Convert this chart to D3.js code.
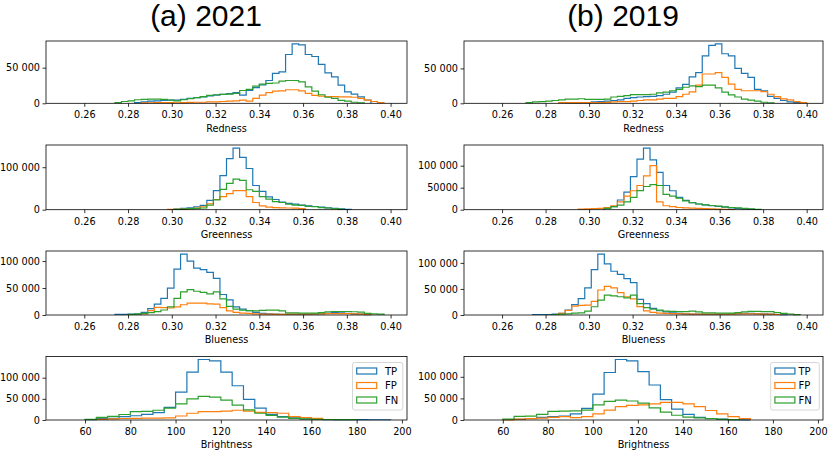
<!DOCTYPE html>
<html>
<head>
<meta charset="utf-8">
<script src="https://cdn.jsdelivr.net/npm/d3@7"></script>
<style>
	body { margin: 0; background: #fff; }
	svg { display: block; }
</style>
</head>
<body>
<div id="chart"></div>
<script>
// ---------------------------------------------------------------------------
// Data: histogram counts per bin
// Colour channels: 50 bins of 0.003 from 0.25 ; brightness: 29 bins of 5 from 50
// ---------------------------------------------------------------------------
var seriesNames = ["TP", "FP", "FN"];

var redness2021TP = [0,0,0,0,0,0,0,0,0,0, 0,1000,2000,3000,3500,4000,4500,4500,5500,7000,
	8000,9000,10500,11500,12500,13500,15000,11500,18000,22000, 26000,32000,42000,44000,68500,83300,82000,68500,65700,54600,
	42600,37000,25500,16000,13000,9000,4600,0,0,0];
var redness2021FP = [0,0,0,0,0,0,0,0,0,0, 0,0,500,800,1000,1000,1000,800,1000,1200,
	1500,1500,2000,2000,2500,3000,3500,4500,3000,7000, 11500,15000,17000,17500,19000,19000,17500,14000,11000,10000,
	9500,9500,9000,9000,8500,7000,4500,2500,1000,0];
var redness2021FN = [0,0,0,0,0,0,0,0,1000,2500, 3500,5000,5500,6000,6000,5500,4500,3500,5000,6500,
	8000,9500,11000,12000,12500,13000,14000,18000,19500,24000, 27000,28000,28500,31000,32000,32000,30000,23000,17000,12000,
	8500,7000,4000,3000,1500,800,0,0,0,0];

var redness2019TP = [0,0,0,0,0,0,0,0,0,0, 0,0,0,1000,1000,1000,1000,2000,2500,3000,
	4000,5000,7000,8000,9000,9500,10000,11000,13000,16000, 22000,27000,38000,44000,68000,83000,85000,71000,68000,50000,
	43000,37000,20000,18000,10000,7000,4000,2000,1000,0];
var redness2019FP = [0,0,0,0,0,0,0,0,0,0, 0,0,1000,1000,1000,1000,1000,1000,1000,1200,
	2000,2400,2400,3000,4000,4800,5000,6000,7000,7000, 9500,13000,16500,26000,42000,42000,44000,37000,27600,20000,
	18000,18000,18000,16600,13000,9500,6200,4800,2400,1000];
var redness2019FN = [0,0,0,0,0,0,0,1000,2000,2500, 3000,4000,5000,6000,6000,6500,5500,5500,5500,6000,
	9000,10000,11000,12500,12500,12500,13000,15000,16000,18000, 20000,23000,25000,24000,26000,26000,22000,16000,12000,9000,
	6000,4500,3000,1500,800,0,0,0,0,0];

var greenness2021TP = [0,0,0,0,0,0,0,0,0,0, 0,0,0,0,0,0,0,1500,3000,4500,
	7000,10000,22000,45000,80000,120000,145000,123000,97000,57000, 43000,30000,24000,18000,15000,13000,11000,9000,7500,6000,
	4500,3000,2000,1000,0,0,0,0,0,0];
var greenness2021FP = [0,0,0,0,0,0,0,0,0,0, 0,0,0,0,0,0,1000,1000,1500,2500,
	3500,7000,14000,24000,31000,38000,45000,45000,31000,17000, 9000,6000,5000,4500,4000,3500,2500,0,0,0,
	0,0,0,0,0,0,0,0,0,0];
var greenness2021FN = [0,0,0,0,0,0,0,0,0,0, 0,0,0,0,0,0,0,1000,1500,2500,
	3000,4000,11000,23000,48000,62000,72000,69000,47000,43000, 31000,25000,19000,17000,13000,11000,10000,8000,7000,5000,
	4000,2500,1000,0,0,0,0,0,0,0];

var greenness2019TP = [0,0,0,0,0,0,0,0,0,0, 0,0,0,0,0,0,0,0,0,4000,
	7000,22000,40000,75000,115000,140000,113000,85000,55000,43000, 28000,21000,16000,13000,11000,9000,7500,6000,4000,3000,
	2000,1000,500,0,0,0,0,0,0,0];
var greenness2019FP = [0,0,0,0,0,0,0,0,0,0, 0,0,0,0,0,1500,2000,2500,3000,5000,
	9000,18000,31000,43000,55000,77000,100000,18000,9000,7000, 5000,4000,3500,3000,2500,2000,1500,1000,500,0,
	0,0,0,0,0,0,0,0,0,0];
var greenness2019FN = [0,0,0,0,0,0,0,0,0,0, 0,0,0,0,0,0,0,0,0,3000,
	7000,10500,18000,28000,43500,52700,57000,55000,35000,31000, 26000,20000,16000,13000,11000,9500,8000,6500,5000,4000,
	3000,2000,1000,0,0,0,0,0,0,0];

var blueness2021TP = [0,0,0,0,0,0,0,0,1000,1000, 1500,2000,5000,12000,20000,31000,50000,85000,113000,100000,
	87000,84000,79000,68000,38000,28000,15000,11000,8000,5000, 3000,2000,1500,1200,1000,1000,1000,1500,2000,2500,
	3500,4500,4000,3000,2000,1500,800,0,0,0];
var blueness2021FP = [0,0,0,0,0,0,0,0,0,0, 0,0,2000,8000,14000,13500,13000,15000,19000,22000,
	22000,22000,20500,20000,13500,7500,5000,3500,3000,2000, 1500,1500,1200,1200,1500,1500,1500,1500,2000,2000,
	2500,2500,2500,2500,2000,1500,1000,0,0,0];
var blueness2021FN = [0,0,0,0,0,0,0,0,0,0, 1000,1500,3000,4300,6200,9300,15000,31000,43000,47000,
	44000,42000,39000,43000,30000,16000,11000,9000,8000,7500, 8500,9000,9000,7500,4000,4000,3500,3500,3500,4500,
	6000,6500,6500,6500,6000,5500,3000,2000,1500,0];

var blueness2019TP = [0,0,0,0,0,0,0,0,1000,1000, 1000,1500,3000,9500,20000,31600,52000,87000,117000,98000,
	84000,78000,70000,62000,30000,22000,12700,8200,6000,4000, 3000,2000,1500,1500,1200,1200,1200,1500,2000,2500,
	3000,3000,2500,2000,1500,1000,500,0,0,0];
var blueness2019FP = [0,0,0,0,0,0,0,0,0,0, 0,0,3000,9000,17000,18500,19000,26000,48000,55000,
	52000,43000,35000,31000,16000,8000,5000,3500,3000,2500, 2000,2000,1500,1500,1500,1500,1500,1500,1500,2000,
	2000,2000,2000,1500,1500,1000,0,0,0,0];
var blueness2019FN = [0,0,0,0,0,0,0,0,0,0, 0,1000,1500,2000,3500,4000,7600,15800,28500,38000,
	36700,35000,33000,38000,22000,14000,11000,9500,7500,7000, 6500,6500,7500,6000,4000,4000,3500,3500,3500,4500,
	6000,7000,7000,6500,6500,4500,3000,1500,800,0];

var brightness2021TP = [0,0,1000,4000,4000,8000,10000,13500,17500,30000,
	66000,113000,143000,140000,113000,81000,49000,28000,13500,8000,
	4800,2400,1500,1000,800,800,700,600,600];
var brightness2021FP = [0,0,0,1500,2500,3500,4000,4500,4500,5000,
	9500,16000,20000,20000,21000,23000,21000,18000,17500,16000,
	8000,5500,4000,0,0,0,0,0,0];
var brightness2021FN = [0,0,1500,6000,8500,13000,20000,20500,23000,28000,
	38000,50000,56000,54000,47000,35000,24000,16000,11000,7000,
	4000,2500,1500,1200,1000,1000,0,0,0];

var brightness2019TP = [0,0,0,1500,3500,6000,8000,9000,14000,27000,
	60000,110000,140000,137000,112000,81000,47000,25000,13000,6000,
	3500,2000,1000,500,0,0,0,0,0];
var brightness2019FP = [0,0,500,2000,3000,4500,6000,8000,5500,8000,
	14000,23000,31000,34000,35000,37500,40600,40600,37500,31000,
	22000,14000,8000,3000,0,0,0,0,0];
var brightness2019FN = [0,0,2000,8500,9000,13000,20000,20500,21000,23000,
	35000,43000,46000,44000,39000,28000,18000,11000,6500,5000,
	3000,1500,800,0,0,0,0,0,0];

// Bin definitions
var colourBinStart = 0.25, colourBinWidth = 0.003, colourBinCount = 50;
var brightBinStart = 50, brightBinWidth = 5, brightBinCount = 29;

// Tick values and labels
var colourTicks = [0.26, 0.28, 0.30, 0.32, 0.34, 0.36, 0.38, 0.40];
var brightTicks = [60, 80, 100, 120, 140, 160, 180, 200];
var yTicksA = [0, 50000];            var yLabelsA = ["0", "50 000"];
var yTicksB = [0, 100000];           var yLabelsB = ["0", "100 000"];
var yTicksC = [0, 50000, 100000];    var yLabelsC = ["0", "50 000", "100 000"];
var yLabelsD = ["0", "50000", "100 000"];

var titles = ["(a) 2021", "(b) 2019"];

// ---------------------------------------------------------------------------
// Layout
// ---------------------------------------------------------------------------
var W = 828, H = 451;
var colX = [[46, 407], [464, 823]];
var rowY = [[41, 103.3], [145, 209.7], [251, 315], [356.5, 420]];
var titleX = [206, 623];
var colors = ["#1f77b4", "#ff7f0e", "#2ca02c"];
var tickFont = "DejaVu Sans";
var fontSize = 9.7;

function makeEdges (start, width, n) {
	return d3.range(n + 1).map(function (i) { return start + width * i; });
}
var colourEdges = makeEdges(colourBinStart, colourBinWidth, colourBinCount);
var brightEdges = makeEdges(brightBinStart, brightBinWidth, brightBinCount);

var panels = [
	{ col: 0, row: 0, name: "Redness",    series: [redness2021TP, redness2021FP, redness2021FN],       edges: colourEdges, xTicks: colourTicks, yTicks: yTicksA, yLabels: yLabelsA },
	{ col: 1, row: 0, name: "Redness",    series: [redness2019TP, redness2019FP, redness2019FN],       edges: colourEdges, xTicks: colourTicks, yTicks: yTicksA, yLabels: yLabelsA },
	{ col: 0, row: 1, name: "Greenness",  series: [greenness2021TP, greenness2021FP, greenness2021FN], edges: colourEdges, xTicks: colourTicks, yTicks: yTicksB, yLabels: yLabelsB },
	{ col: 1, row: 1, name: "Greenness",  series: [greenness2019TP, greenness2019FP, greenness2019FN], edges: colourEdges, xTicks: colourTicks, yTicks: yTicksC, yLabels: yLabelsD },
	{ col: 0, row: 2, name: "Blueness",   series: [blueness2021TP, blueness2021FP, blueness2021FN],    edges: colourEdges, xTicks: colourTicks, yTicks: yTicksC, yLabels: yLabelsC },
	{ col: 1, row: 2, name: "Blueness",   series: [blueness2019TP, blueness2019FP, blueness2019FN],    edges: colourEdges, xTicks: colourTicks, yTicks: yTicksC, yLabels: yLabelsC },
	{ col: 0, row: 3, name: "Brightness", series: [brightness2021TP, brightness2021FP, brightness2021FN], edges: brightEdges, xTicks: brightTicks, yTicks: yTicksC, yLabels: yLabelsC, legend: [352.5, 362.5, 50.3, 47.5, 385] },
	{ col: 1, row: 3, name: "Brightness", series: [brightness2019TP, brightness2019FP, brightness2019FN], edges: brightEdges, xTicks: brightTicks, yTicks: yTicksC, yLabels: yLabelsC, legend: [770.7, 362.5, 48.6, 47.5, 798.5] }
];

var svg = d3.select("#chart").append("svg")
	.attr("width", W)
	.attr("height", H);

svg.append("rect").attr("width", W).attr("height", H).attr("fill", "#fff");

// Column titles
titles.forEach(function (t, i) {
	svg.append("text")
		.attr("x", titleX[i])
		.attr("y", 25.5)
		.attr("text-anchor", "middle")
		.attr("font-family", "Liberation Sans, Arial, sans-serif")
		.attr("font-size", 30)
		.attr("fill", "#000")
		.text(t);
});

/**
 * Draw one histogram panel
 */
function drawPanel (p) {
	var x0 = colX[p.col][0], x1 = colX[p.col][1];
	var y0 = rowY[p.row][0], y1 = rowY[p.row][1];
	var edges = p.edges;
	var span = edges[edges.length - 1] - edges[0];

	var x = d3.scaleLinear()
		.domain([edges[0] - 0.05 * span, edges[edges.length - 1] + 0.05 * span])
		.range([x0, x1]);

	var maxVal = d3.max(p.series, function (s) { return d3.max(s); });
	var y = d3.scaleLinear()
		.domain([0, maxVal * 1.05])
		.range([y1, y0]);

	var g = svg.append("g");

	// Step outlines (TP, FP, FN in order, FN on top)
	var line = d3.line()
		.x(function (d) { return x(d[0]); })
		.y(function (d) { return y(d[1]); });

	p.series.forEach(function (vals, si) {
		// only the non-empty stretch: empty bins sit under the bottom spine
		var first = vals.findIndex(function (v) { return v > 0; });
		var last = vals.length - 1;
		while (last > first && vals[last] === 0) last--;

		var pts = [[edges[first], 0]];
		for (var i = first; i <= last; i++) {
			pts.push([edges[i], vals[i]]);
			pts.push([edges[i + 1], vals[i]]);
		}
		pts.push([edges[last + 1], 0]);

		g.append("path")
			.attr("d", line(pts))
			.attr("fill", "none")
			.attr("stroke", colors[si])
			.attr("stroke-width", 1.2)
			.attr("stroke-linejoin", "miter");
	});

	// Axes
	var xAxis = d3.axisBottom(x)
		.tickValues(p.xTicks)
		.tickSize(3.5)
		.tickPadding(4.5)
		.tickFormat(function (d) { return edges[0] < 1 ? d3.format(".2f")(d) : d3.format("d")(d); });

	var yAxis = d3.axisLeft(y)
		.tickValues(p.yTicks)
		.tickSize(3.5)
		.tickPadding(2.5)
		.tickFormat(function (d, i) { return p.yLabels[i]; });

	var gx = g.append("g")
		.attr("transform", "translate(0," + y1 + ")")
		.call(xAxis);
	var gy = g.append("g")
		.attr("transform", "translate(" + x0 + ",0)")
		.call(yAxis);

	[gx, gy].forEach(function (a) {
		a.select(".domain").remove();
		a.selectAll(".tick line").attr("stroke", "#000").attr("stroke-width", 0.8);
		a.selectAll(".tick text")
			.attr("font-family", tickFont)
			.attr("font-size", fontSize)
			.attr("fill", "#000");
	});

	// Frame (spines) on top of the lines
	g.append("rect")
		.attr("x", x0)
		.attr("y", y0)
		.attr("width", x1 - x0)
		.attr("height", y1 - y0)
		.attr("fill", "none")
		.attr("stroke", "#000")
		.attr("stroke-width", 0.8);

	// X label
	g.append("text")
		.attr("x", (x0 + x1) / 2)
		.attr("y", y1 + 28.3)
		.attr("text-anchor", "middle")
		.attr("font-family", tickFont)
		.attr("font-size", fontSize)
		.attr("fill", "#000")
		.text(p.name);

	if (p.legend) drawLegend(g, p.legend);
}

/**
 * Legend box with outlined patches
 */
function drawLegend (g, box) {
	var bx = box[0], by = box[1], bw = box[2], bh = box[3], tx = box[4];
	var rowsY = [371, 385.5, 400];

	g.append("rect")
		.attr("x", bx).attr("y", by)
		.attr("width", bw).attr("height", bh)
		.attr("rx", 2)
		.attr("fill", "#fff")
		.attr("fill-opacity", 0.8)
		.attr("stroke", "#cccccc")
		.attr("stroke-width", 0.8);

	seriesNames.forEach(function (name, i) {
		g.append("rect")
			.attr("x", bx + 4.2)
			.attr("y", rowsY[i] - 3)
			.attr("width", 20)
			.attr("height", 6)
			.attr("fill", "#fff")
			.attr("stroke", colors[i])
			.attr("stroke-width", 1.2);

		g.append("text")
			.attr("x", tx)
			.attr("y", rowsY[i] + 3.5)
			.attr("font-family", tickFont)
			.attr("font-size", 10)
			.attr("fill", "#000")
			.text(name);
	});
}

panels.forEach(drawPanel);
</script>
</body>
</html>
